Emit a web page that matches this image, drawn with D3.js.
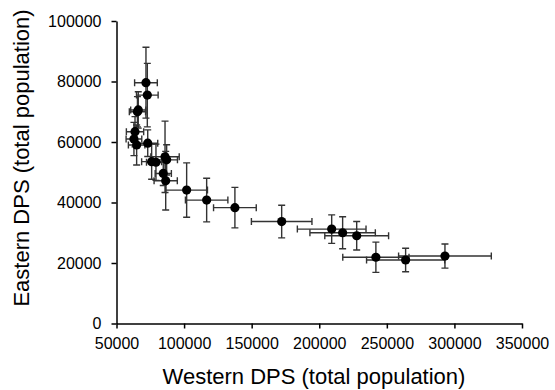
<!DOCTYPE html>
<html>
<head>
<meta charset="utf-8">
<script src="https://cdn.jsdelivr.net/npm/d3@7"></script>
<style>
  body { margin: 0; background: #fff; }
  svg { display: block; }
  .axis path, .axis line { stroke: #000; stroke-width: 1.5; }
  .axis text { font-family: "Liberation Sans", Arial, sans-serif; font-size: 16px; fill: #000; }
</style>
</head>
<body>
<svg id="chart"></svg>
<script>
let w = 555;
let h = 390;

// western DPS (x), eastern DPS (y), with symmetric error bars
let westX   = [71800, 72800, 66100, 65500, 63700, 62900, 64900, 73100, 76000, 79200, 85900, 87100, 84600, 86400,
               101900, 116700, 137600, 172200, 209200, 217300, 227700, 241900, 263900, 293000];
let eastY   = [79600, 75500, 70600, 70000, 63400, 61000, 59000, 59600, 53500, 53300, 55100, 54100, 49600, 47200,
               44100, 40800, 38300, 33700, 31200, 30000, 29000, 21900, 21000, 22300];
let westErr = [8400, 8000, 5600, 6000, 6400, 5800, 6100, 7400, 7400, 7000, 10500, 8000, 6000, 8600,
               15400, 15700, 15800, 22400, 25400, 24200, 23600, 24500, 28900, 34300];
let eastErr = [11700, 10500, 6000, 5000, 5000, 5500, 6600, 4400, 5800, 6000, 11800, 5000, 4000, 9700,
               9000, 7200, 6700, 5400, 4700, 5300, 4700, 5000, 3900, 4000];

let xTicks = [50000, 100000, 150000, 200000, 250000, 300000, 350000];
let yTicks = [0, 20000, 40000, 60000, 80000, 100000];

let data = westX.map((x, i) => ({ x: x, y: eastY[i], xe: westErr[i], ye: eastErr[i] }));

let chart = d3.select("#chart")
    .attr("width", w)
    .attr("height", h);

let xScale = d3.scaleLinear().domain([50000, 350000]).range([116.5, 522]);
let yScale = d3.scaleLinear().domain([0, 100000]).range([323.5, 21]);

// error bars
let cap = 3.5;
let bars = chart.append("g")
    .attr("stroke", "#333")
    .attr("stroke-width", 1.4)
    .attr("fill", "none");

data.forEach(d => {
    let cx = xScale(d.x), cy = yScale(d.y);
    let x0 = xScale(d.x - d.xe), x1 = xScale(d.x + d.xe);
    let y0 = yScale(d.y - d.ye), y1 = yScale(d.y + d.ye);
    bars.append("path")
        .attr("d", `M${x0},${cy}H${x1}M${x0},${cy - cap}V${cy + cap}M${x1},${cy - cap}V${cy + cap}` +
                   `M${cx},${y0}V${y1}M${cx - cap},${y0}H${cx + cap}M${cx - cap},${y1}H${cx + cap}`);
});

// points
chart.append("g")
    .selectAll("circle")
    .data(data)
    .join("circle")
    .attr("cx", d => xScale(d.x))
    .attr("cy", d => yScale(d.y))
    .attr("r", 4.6)
    .attr("fill", "#000");

// axes
let xAxis = d3.axisBottom(xScale)
    .tickValues(xTicks)
    .tickSize(5)
    .tickSizeOuter(0)
    .tickPadding(9)
    .tickFormat(d3.format("d"));

let yAxis = d3.axisLeft(yScale)
    .tickValues(yTicks)
    .tickSize(5)
    .tickSizeOuter(0)
    .tickPadding(10)
    .tickFormat(d3.format("d"));

chart.append("g")
    .attr("class", "axis")
    .attr("transform", `translate(0, ${yScale(0)})`)
    .call(xAxis);

chart.append("g")
    .attr("class", "axis")
    .attr("transform", `translate(${xScale(50000)}, 0)`)
    .call(yAxis);

// titles
chart.append("text")
    .attr("x", 314)
    .attr("y", 384)
    .attr("text-anchor", "middle")
    .attr("font-family", "Liberation Sans, Arial, sans-serif")
    .attr("font-size", 22)
    .text("Western DPS (total population)");

chart.append("text")
    .attr("transform", "translate(29, 158) rotate(-90)")
    .attr("text-anchor", "middle")
    .attr("font-family", "Liberation Sans, Arial, sans-serif")
    .attr("font-size", 22)
    .text("Eastern DPS (total population)");
</script>
</body>
</html>
